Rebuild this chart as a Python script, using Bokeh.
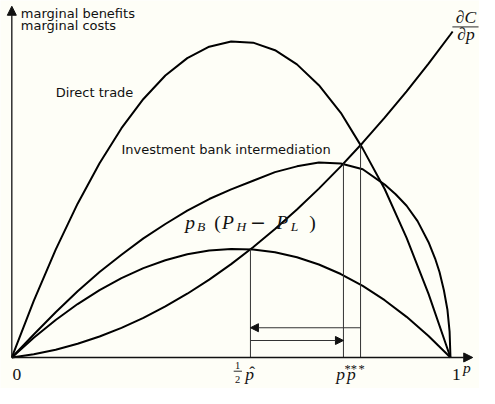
from bokeh.plotting import figure
from bokeh.models import Arrow, NormalHead, ColumnDataSource, Range1d
from bokeh.core.properties import value
from bokeh.embed import file_html
from bokeh.resources import INLINE

# ---------------- data ----------------
p_grid = [0.0, 0.05, 0.10, 0.15, 0.20, 0.25, 0.30, 0.35, 0.40, 0.45, 0.50,
          0.55, 0.60, 0.65, 0.70, 0.75, 0.80, 0.85, 0.90, 0.95, 1.0]

direct_trade = [0.0, 0.1789, 0.3413, 0.4868, 0.6150, 0.7256, 0.8182, 0.8923, 0.9475,
                0.9836, 1.0, 0.9964, 0.9725, 0.9277, 0.8618, 0.7744, 0.661, 0.5332,
                0.3787, 0.2011, 0.0]

bank_p = [0.0, 0.05, 0.10, 0.15, 0.20, 0.25, 0.30, 0.35, 0.40, 0.45, 0.50, 0.55,
          0.60, 0.65, 0.70, 0.75, 0.80, 0.85, 0.875, 0.90, 0.925, 0.95, 0.965,
          0.975, 0.985, 0.993, 0.998, 1.0]
bank_intermediation = [0.0, 0.0729, 0.1429, 0.2097, 0.2705, 0.3252, 0.3769, 0.4225,
                       0.4650, 0.5015, 0.5319, 0.5593, 0.5866, 0.6049, 0.6170, 0.6140,
                       0.5957, 0.5471, 0.5167, 0.4802, 0.4316, 0.3647, 0.3131, 0.2705,
                       0.2128, 0.1520, 0.0821, 0.0]

pb_spread = [0.0, 0.0623, 0.1187, 0.1691, 0.2132, 0.2512, 0.2828, 0.3079, 0.3265,
             0.3384, 0.3435, 0.3418, 0.3331, 0.3173, 0.2943, 0.2641, 0.2264, 0.1813,
             0.1286, 0.0682, 0.0]

cost_p = p_grid + [1.005]
marginal_cost = [0.0, 0.0101, 0.0246, 0.0433, 0.0664, 0.0938, 0.1255, 0.1615, 0.2018,
                 0.2465, 0.2954, 0.3487, 0.4063, 0.4682, 0.5344, 0.6049, 0.6797,
                 0.7589, 0.8423, 0.9301, 1.0222, 1.0316]

marks = [0.544, 0.756, 0.795]
mark_tops = [0.342, 0.6137, 0.672]
arrow_levels = [0.0942, 0.0538]

sans_labels = ["marginal benefits", "marginal costs", "Direct trade",
               "Investment bank intermediation"]

BG = "#fefef7"
INK = "#111111"
SANS = "DejaVu Sans"
SERIF = "Liberation Serif"


# reference-pixel to data helpers for placing annotations
def X(px):
    return (px - 11.7) / 453.3


def Y(py):
    return (371.7 - py) / 329.0


p = figure(width=479, height=388,
           x_range=Range1d(start=X(0), end=X(495)),
           y_range=Range1d(start=Y(404), end=Y(0)),
           x_axis_location=None, y_axis_location=None,
           toolbar_location=None, output_backend="svg", min_border=0,
           background_fill_color=BG, border_fill_color=BG,
           outline_line_color=None)
p.xgrid.visible = False
p.ygrid.visible = False

# axes with arrow heads
p.add_layout(Arrow(end=NormalHead(size=9, fill_color=INK, line_color=INK, line_width=1),
                   x_start=0, y_start=0, x_end=X(488), y_end=0,
                   line_color=INK, line_width=1.3))
p.add_layout(Arrow(end=NormalHead(size=9, fill_color=INK, line_color=INK, line_width=1),
                   x_start=0, y_start=0, x_end=0, y_end=Y(6),
                   line_color=INK, line_width=1.3))

# curves
p.line(p_grid, direct_trade, line_color="black", line_width=2)
p.line(bank_p, bank_intermediation, line_color="black", line_width=2)
p.line(p_grid, pb_spread, line_color="black", line_width=2)
p.line(cost_p, marginal_cost, line_color="black", line_width=2)

# vertical lines at the marked points
p.segment(x0=marks, y0=[0, 0, 0], x1=marks, y1=mark_tops,
          line_color="#333333", line_width=1)

# horizontal arrows
p.add_layout(Arrow(end=NormalHead(size=8, fill_color=INK, line_color=INK, line_width=1),
                   x_start=marks[2], y_start=arrow_levels[0],
                   x_end=marks[0], y_end=arrow_levels[0],
                   line_color="#333333", line_width=1.1))
p.add_layout(Arrow(end=NormalHead(size=8, fill_color=INK, line_color=INK, line_width=1),
                   x_start=marks[0], y_start=arrow_levels[1],
                   x_end=marks[1], y_end=arrow_levels[1],
                   line_color="#333333", line_width=1.1))

# sans text labels
sans_src = ColumnDataSource(dict(
    x=[X(21), X(21), X(57), X(125)],
    y=[Y(13.8), Y(25.8), Y(95.3), Y(155.3)],
    t=sans_labels))
p.text(x="x", y="y", text="t", source=sans_src, text_font=value(SANS),
       text_font_size="13px", text_color=INK, text_align="left",
       text_baseline="alphabetic")

# italic math pieces
it_src = ColumnDataSource(dict(
    x=[X(191), X(203), X(229), X(244), X(285), X(300),
       X(253), X(347), X(358), X(478)],
    y=[Y(231), Y(235), Y(231), Y(235), Y(231), Y(235),
       Y(388.7), Y(388.7), Y(388.7), Y(382.4)],
    t=["p", "B", "P", "H", "P", "L", "p", "p", "p", "p"],
    s=["19.5px", "13.5px", "19.5px", "13.5px", "19.5px", "13.5px",
       "17.5px", "17.5px", "17.5px", "15.5px"]))
p.text(x="x", y="y", text="t", source=it_src, text_font=value(SERIF),
       text_font_style="italic", text_font_size="s", text_color=INK,
       text_align="left", text_baseline="alphabetic")

# upright math pieces (brackets and superscript stars)
up_src = ColumnDataSource(dict(
    x=[X(221), X(319), X(355.5), X(370)],
    y=[Y(231), Y(231), Y(383.5), Y(383.5)],
    t=["(", ")", "**", "*"],
    s=["19.5px", "19.5px", "12.5px", "12.5px"]))
p.text(x="x", y="y", text="t", source=up_src, text_font=value(SERIF),
       text_font_size="s", text_color=INK, text_align="left",
       text_baseline="alphabetic")

# long minus sign
p.text(x=[X(266)], y=[Y(231)], text=["\u2212"], text_font=value("DejaVu Serif"),
       text_font_size="19px", text_color=INK, text_align="center",
       text_baseline="alphabetic")

# centred upright pieces (tick values, fraction 1/2, hat)
c_src = ColumnDataSource(dict(
    x=[X(17), X(471), X(245), X(245), X(260)],
    y=[Y(389.7), Y(389.7), Y(379.7), Y(394.7), Y(386.7)],
    t=["0", "1", "1", "2", "\u02c6"],
    s=["17.5px", "17.5px", "10.5px", "10.5px", "17.5px"]))
p.text(x="x", y="y", text="t", source=c_src, text_font=value(SERIF),
       text_font_size="s", text_color=INK, text_align="center",
       text_baseline="alphabetic")

# dC/dp fraction
f_src = ColumnDataSource(dict(
    x=[X(481), X(481)], y=[Y(17.7), Y(34.7)], t=["\u2202C", "\u2202p"]))
p.text(x="x", y="y", text="t", source=f_src, text_font=value(SERIF),
       text_font_style="italic", text_font_size="17.5px", text_color=INK,
       text_align="center", text_baseline="alphabetic")

# fraction bars
p.segment(x0=[X(241), X(467)], y0=[Y(386), Y(27.5)],
          x1=[X(249.5), X(494)], y1=[Y(386), Y(27.5)],
          line_color=INK, line_width=0.9)

open("out.html", "w").write(file_html(p, INLINE))
